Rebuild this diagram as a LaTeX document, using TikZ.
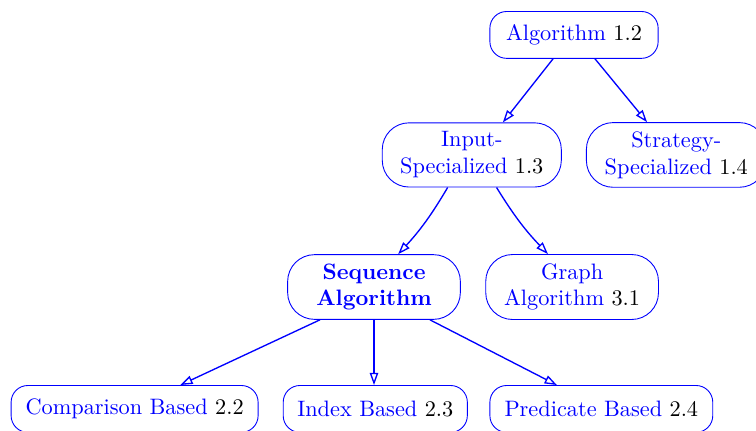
\documentclass[tikz,border=0pt]{standalone}
\usepackage{tikz}
\usetikzlibrary{arrows.meta}
\newcommand{\secnum}[1]{\textcolor{black}{#1}}

\begin{document}
\begin{tikzpicture}[
    box/.style={draw=blue, text=blue, rounded corners=7.5pt, align=center,
      inner xsep=4pt, inner ysep=4pt, minimum height=21pt},
    tall/.style={box, rounded corners=12pt},
    link/.style={draw=blue, semithick, -{Triangle[open,length=5.5pt,width=3.8pt]}}]
    \useasboundingbox (0,0) rectangle (11.906,-6.772);
    \node[box, minimum width=2.65cm] (alg) at (9.04,-0.55) {Algorithm \secnum{1.2}};
    \node[tall, minimum width=2.82cm] (inp) at (7.43,-2.44) {Input-\\Specialized \secnum{1.3}};
    \node[tall, minimum width=2.83cm] (strat) at (10.65,-2.44) {Strategy-\\Specialized \secnum{1.4}};
    \node[tall, minimum width=2.72cm, font=\bfseries] (seq) at (5.89,-4.52) {Sequence\\Algorithm};
    \node[tall, minimum width=2.72cm] (graph) at (9.01,-4.52) {Graph\\Algorithm \secnum{3.1}};
    \node[box, minimum width=3.89cm] (comp) at (2.12,-6.44) {Comparison Based \secnum{2.2}};
    \node[box, minimum width=2.90cm] (idx) at (5.91,-6.44) {Index Based \secnum{2.3}};
    \node[box, minimum width=3.51cm] (pred) at (9.47,-6.44) {Predicate Based \secnum{2.4}};
    \draw[link] ([xshift=-0.33cm]alg.south) -- ([xshift=0.49cm]inp.north);
    \draw[link] ([xshift=0.33cm]alg.south) -- ([xshift=-0.46cm]strat.north);
    \draw[link] ([xshift=-0.38cm]inp.south) to[bend left=6] ([xshift=0.38cm]seq.north);
    \draw[link] ([xshift=0.39cm]inp.south) to[bend right=6] ([xshift=-0.38cm]graph.north);
    \draw[link] ([xshift=-0.85cm]seq.south) -- ([xshift=0.72cm]comp.north);
    \draw[link] (seq.south) -- (seq.south |- idx.north);
    \draw[link] ([xshift=0.88cm]seq.south) -- ([xshift=-0.7cm]pred.north);
\end{tikzpicture}
\end{document}
